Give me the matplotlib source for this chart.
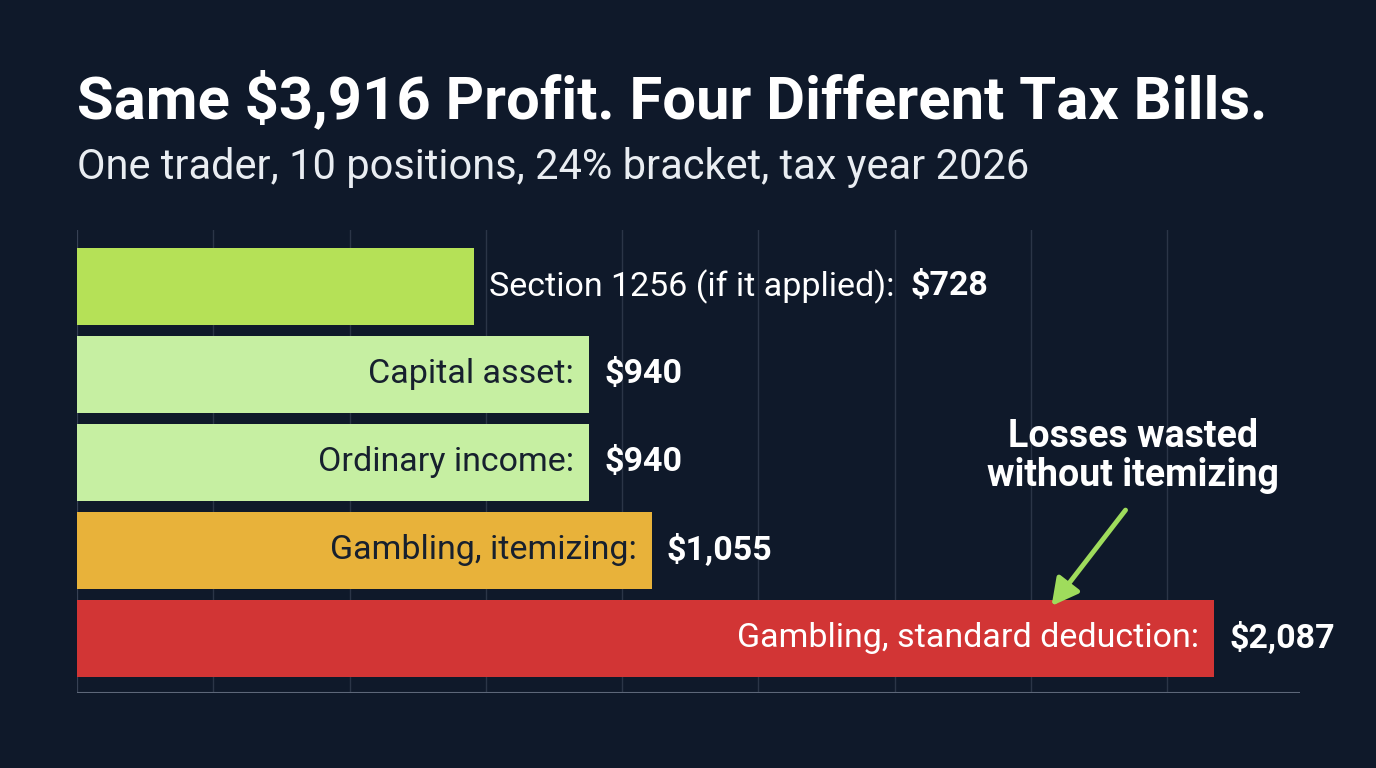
import matplotlib.pyplot as plt
from matplotlib.transforms import offset_copy

# data
labels = ['Section 1256 (if it applied):', 'Capital asset:', 'Ordinary income:',
          'Gambling, itemizing:', 'Gambling, standard deduction:']
values = [728, 940, 940, 1055, 2087]
value_text = ['$728', '$940', '$940', '$1,055', '$2,087']
bar_colors = ['#b5e157', '#c6efa2', '#c6efa2', '#e8b23a', '#d23535']
label_inside = [False, True, True, True, True]
label_colors = ['#ffffff', '#17202e', '#17202e', '#17202e', '#ffffff']

bg = '#0f192a'
plt.rcParams['font.family'] = ['Roboto', 'DejaVu Sans']

fig = plt.figure(figsize=(13.76, 7.68), dpi=100, facecolor=bg)
ax = fig.add_axes([77 / 1376, 1 - 693 / 768, (1300 - 77) / 1376, (693 - 230) / 768])
ax.set_facecolor(bg)

y = list(range(len(values)))
ax.barh(y, values, height=0.875, color=bar_colors, zorder=2)
ax.set_xlim(0, 2244)
ax.set_ylim(4.625, -0.64)

# vertical grid
for g in range(0, 2001, 250):
    ax.axvline(g, color='#2b3547', lw=1, zorder=1)
ax.axvline(0, color='#3a4457', lw=1.2, zorder=1)
ax.axhline(4.625, color='#5d6779', lw=1.5, zorder=3)
for s in ax.spines.values():
    s.set_visible(False)
ax.set_xticks([])
ax.set_yticks([])

fig.canvas.draw()
r = fig.canvas.get_renderer()
fs = 24.5
for i, (lab, v, vt) in enumerate(zip(labels, values, value_text)):
    if label_inside[i]:
        ax.text(v, i, lab, transform=offset_copy(ax.transData, fig, x=-15, y=0, units='dots'),
                ha='right', va='center', fontsize=fs, color=label_colors[i], zorder=4)
        ax.text(v, i, vt, transform=offset_copy(ax.transData, fig, x=15, y=0, units='dots'),
                ha='left', va='center', fontsize=fs, fontweight='bold', color='white', zorder=4)
    else:
        t = ax.text(v, i, lab, transform=offset_copy(ax.transData, fig, x=15, y=0, units='dots'),
                    ha='left', va='center', fontsize=fs, color=label_colors[i], zorder=4)
        bb = t.get_window_extent(r)
        ax.text(bb.x1 + 16, ax.transData.transform((v, i))[1], vt, transform=None,
                ha='left', va='center', fontsize=fs, fontweight='bold', color='white', zorder=4)

# annotation
ax.annotate('', xy=(1785, 3.66), xytext=(1927, 2.52),
            arrowprops=dict(arrowstyle='-|>,head_length=1.6,head_width=0.85',
                            color='#9fdc5c', lw=3.5), zorder=5)
ax.text(1938, 1.93, 'Losses wasted\nwithout itemizing', ha='center', va='center',
        fontsize=27, fontweight='bold', color='white', linespacing=1.1, zorder=5)

fig.text(77 / 1376, 1 - 100 / 768, 'Same $3,916 Profit. Four Different Tax Bills.',
         ha='left', va='center', fontsize=43, fontweight='bold', color='white')
fig.text(77 / 1376, 1 - 167 / 768, 'One trader, 10 positions, 24% bracket, tax year 2026',
         ha='left', va='center', fontsize=30, color='#e9edf2')

fig.savefig('out.png', dpi=100, facecolor=bg)
